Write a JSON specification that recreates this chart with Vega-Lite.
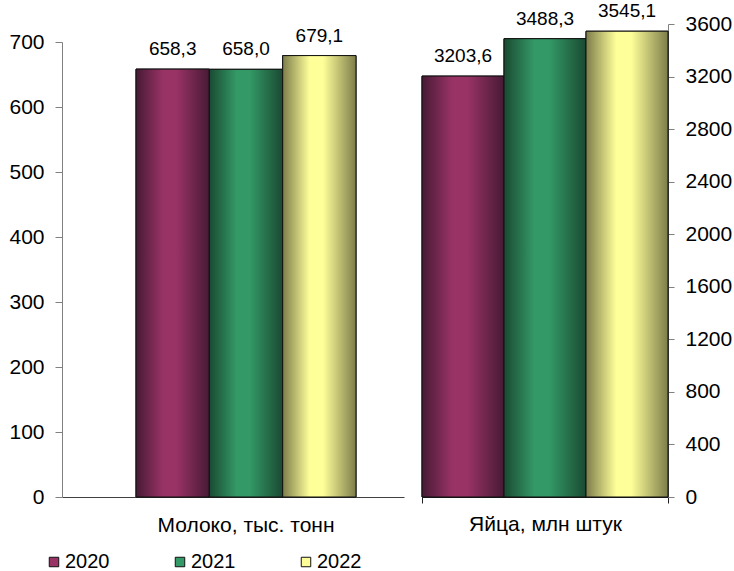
{
  "$schema": "https://vega.github.io/schema/vega-lite/v6.json",
  "padding": {"left": 8, "top": 2, "right": 0, "bottom": 0},
  "background": "white",
  "config": {
    "view": {"stroke": null},
    "font": "Liberation Sans",
    "locale": {"number": {"decimal": ",", "thousands": "", "grouping": [3], "currency": ["", ""]}},
    "axis": {"labelFont": "Liberation Sans", "labelColor": "#000", "labelFontSize": 21, "grid": false}
  },
  "datasets": {
    "milk": [
      {"product": "Молоко, тыс. тонн", "year": "2020", "value": 658.3},
      {"product": "Молоко, тыс. тонн", "year": "2021", "value": 658.0},
      {"product": "Молоко, тыс. тонн", "year": "2022", "value": 679.1}
    ],
    "eggs": [
      {"product": "Яйца, млн штук", "year": "2020", "value": 3203.6},
      {"product": "Яйца, млн штук", "year": "2021", "value": 3488.3},
      {"product": "Яйца, млн штук", "year": "2022", "value": 3545.1}
    ]
  },
  "spacing": 17,
  "resolve": {"scale": {"color": "shared", "xOffset": "independent", "x": "independent", "y": "independent"}},
  "hconcat": [
    {
      "width": 342,
      "height": 495,
      "data": {"name": "milk"},
      "encoding": {
        "x": {"field": "product", "type": "nominal",
          "scale": {"paddingInner": 0, "paddingOuter": 0.2773, "align": 0.6066},
          "axis": {"title": null, "labelAngle": 0, "ticks": false, "labelPadding": 17, "labelFontSize": 21, "labelLimit": 400, "domainColor": "#404040"}},
        "xOffset": {"field": "year", "type": "nominal", "scale": {"domain": ["2020", "2021", "2022"], "paddingInner": 0, "paddingOuter": 0}},
        "y": {"field": "value", "type": "quantitative",
          "scale": {"domain": [0, 700], "range": [495, 40], "nice": false, "zero": true},
          "axis": {"title": null, "values": [0, 100, 200, 300, 400, 500, 600, 700], "format": "d", "tickSize": 7, "labelPadding": 11, "domainColor": "#808080", "tickColor": "#808080"}}
      },
      "layer": [
        {"mark": {"type": "bar", "stroke": "#111", "strokeWidth": 1},
          "encoding": {"color": {"field": "year", "type": "nominal",
            "scale": {"domain": ["2020", "2021", "2022"], "range": ["#993366", "#339966", "#ffff99"]},
            "legend": {"orient": "none", "legendX": -18, "legendY": 550, "direction": "horizontal", "columns": 3, "columnPadding": 60, "symbolType": "square", "symbolSize": 90, "symbolStrokeColor": "#222", "symbolStrokeWidth": 1, "labelFontSize": 20, "labelOffset": 1, "labelColor": "#000", "title": null}}}},
        {"transform": [{"filter": "datum.year == '2020'"}],
          "mark": {"type": "bar", "stroke": "#111", "strokeWidth": 1, "color": {"gradient": "linear", "x1": 0, "y1": 0, "x2": 1, "y2": 0, "stops": [{"offset": 0, "color": "#471a35"}, {"offset": 0.37, "color": "#993366"}, {"offset": 0.55, "color": "#993366"}, {"offset": 1, "color": "#471a35"}]}}},
        {"transform": [{"filter": "datum.year == '2021'"}],
          "mark": {"type": "bar", "stroke": "#111", "strokeWidth": 1, "color": {"gradient": "linear", "x1": 0, "y1": 0, "x2": 1, "y2": 0, "stops": [{"offset": 0, "color": "#1a4a32"}, {"offset": 0.37, "color": "#339966"}, {"offset": 0.55, "color": "#339966"}, {"offset": 1, "color": "#1a4a32"}]}}},
        {"transform": [{"filter": "datum.year == '2022'"}],
          "mark": {"type": "bar", "stroke": "#111", "strokeWidth": 1, "color": {"gradient": "linear", "x1": 0, "y1": 0, "x2": 1, "y2": 0, "stops": [{"offset": 0, "color": "#7d7d4b"}, {"offset": 0.37, "color": "#ffff99"}, {"offset": 0.55, "color": "#ffff99"}, {"offset": 1, "color": "#7d7d4b"}]}}},
        {"mark": {"type": "text", "dy": -14, "baseline": "alphabetic", "fontSize": 19, "color": "#000"},
          "encoding": {"text": {"field": "value", "type": "quantitative", "format": ".1f"}}}
      ]
    },
    {
      "width": 246,
      "height": 495,
      "data": {"name": "eggs"},
      "encoding": {
        "x": {"field": "product", "type": "nominal",
          "scale": {"paddingInner": 0, "paddingOuter": 0},
          "axis": {"title": null, "labelAngle": 0, "tickBand": "extent", "tickSize": 6, "labelPadding": 10, "labelFontSize": 21, "labelLimit": 400, "domainColor": "#202020", "tickColor": "#202020"}},
        "xOffset": {"field": "year", "type": "nominal", "scale": {"domain": ["2020", "2021", "2022"], "paddingInner": 0, "paddingOuter": 0}},
        "y": {"field": "value", "type": "quantitative",
          "scale": {"domain": [0, 3600], "range": [495, 22], "nice": false, "zero": true},
          "axis": {"orient": "right", "title": null, "values": [0, 400, 800, 1200, 1600, 2000, 2400, 2800, 3200, 3600], "format": "d", "tickSize": 6, "labelPadding": 11, "domainColor": "#808080", "tickColor": "#808080"}}
      },
      "layer": [
        {"mark": {"type": "bar", "stroke": "#111", "strokeWidth": 1},
          "encoding": {"color": {"field": "year", "type": "nominal"}}},
        {"transform": [{"filter": "datum.year == '2020'"}],
          "mark": {"type": "bar", "stroke": "#111", "strokeWidth": 1, "color": {"gradient": "linear", "x1": 0, "y1": 0, "x2": 1, "y2": 0, "stops": [{"offset": 0, "color": "#471a35"}, {"offset": 0.37, "color": "#993366"}, {"offset": 0.55, "color": "#993366"}, {"offset": 1, "color": "#471a35"}]}}},
        {"transform": [{"filter": "datum.year == '2021'"}],
          "mark": {"type": "bar", "stroke": "#111", "strokeWidth": 1, "color": {"gradient": "linear", "x1": 0, "y1": 0, "x2": 1, "y2": 0, "stops": [{"offset": 0, "color": "#1a4a32"}, {"offset": 0.37, "color": "#339966"}, {"offset": 0.55, "color": "#339966"}, {"offset": 1, "color": "#1a4a32"}]}}},
        {"transform": [{"filter": "datum.year == '2022'"}],
          "mark": {"type": "bar", "stroke": "#111", "strokeWidth": 1, "color": {"gradient": "linear", "x1": 0, "y1": 0, "x2": 1, "y2": 0, "stops": [{"offset": 0, "color": "#7d7d4b"}, {"offset": 0.37, "color": "#ffff99"}, {"offset": 0.55, "color": "#ffff99"}, {"offset": 1, "color": "#7d7d4b"}]}}},
        {"mark": {"type": "text", "dy": -14, "baseline": "alphabetic", "fontSize": 19, "color": "#000"},
          "encoding": {"text": {"field": "value", "type": "quantitative", "format": ".1f"}}}
      ]
    }
  ]
}
